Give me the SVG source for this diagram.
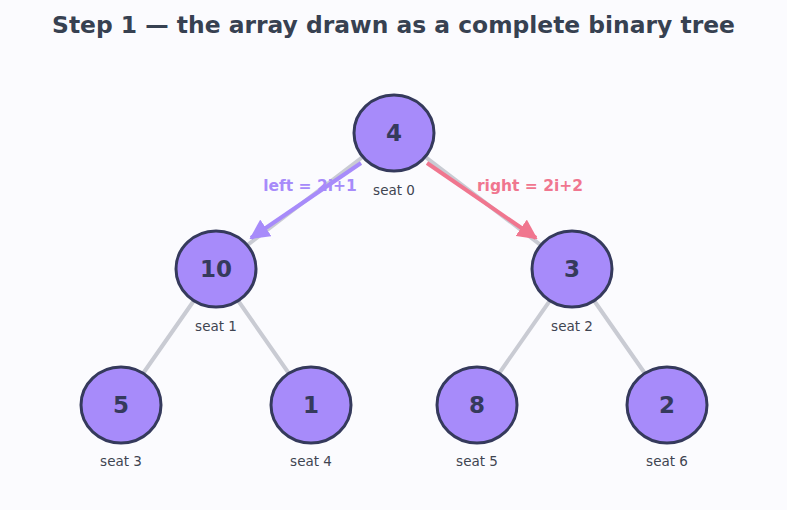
<svg xmlns="http://www.w3.org/2000/svg" width="787" height="510" viewBox="0 0 787 510">
<style>
.bg{fill:#fbfbfe}
.title{font-family:"DejaVu Sans",sans-serif;font-weight:bold;font-size:23.4px;fill:#374151;text-anchor:middle}
.node ellipse{fill:#a78bfa;stroke:#353a5c;stroke-width:3}
.val{font-family:"DejaVu Sans",sans-serif;font-weight:bold;font-size:23px;fill:#353a5c;text-anchor:middle}
.seat{font-family:"DejaVu Sans",sans-serif;font-size:13.5px;fill:#3f4451;text-anchor:middle}
.edge{stroke:#c9cbd3;stroke-width:4;stroke-linecap:round}
.lbl{font-family:"DejaVu Sans",sans-serif;font-weight:bold;font-size:15.5px;text-anchor:middle}
</style>
<defs>
<marker id="ahL" markerWidth="5" markerHeight="5" refX="4.5" refY="2.5" orient="auto" markerUnits="strokeWidth"><path d="M0,0 L5,2.5 L0,5 z" fill="#a78bfa"/></marker>
<marker id="ahR" markerWidth="5" markerHeight="5" refX="4.5" refY="2.5" orient="auto" markerUnits="strokeWidth"><path d="M0,0 L5,2.5 L0,5 z" fill="#f0768f"/></marker>
</defs>
<rect class="bg" x="0" y="0" width="787" height="510"/>
<text class="title" x="393.5" y="33">Step 1 — the array drawn as a complete binary tree</text>
<g id="connectors">
<line class="edge" x1="394" y1="133" x2="216" y2="269"/>
<line class="edge" x1="394" y1="133" x2="572" y2="269"/>
<line class="edge" x1="216" y1="269" x2="121" y2="405"/>
<line class="edge" x1="216" y1="269" x2="311" y2="405"/>
<line class="edge" x1="572" y1="269" x2="477" y2="405"/>
<line class="edge" x1="572" y1="269" x2="667" y2="405"/>
<line x1="361" y1="163" x2="251" y2="238" stroke="#a78bfa" stroke-width="4" marker-end="url(#ahL)"/>
<line x1="427" y1="163" x2="536" y2="238" stroke="#f0768f" stroke-width="4" marker-end="url(#ahR)"/>
<text class="lbl" x="310" y="191" fill="#a78bfa">left = 2i+1</text>
<text class="lbl" x="530" y="191" fill="#f0768f">right = 2i+2</text>
</g>
<g id="n0" class="node"><ellipse cx="394" cy="133" rx="40" ry="38"/><text class="val" x="394" y="141">4</text><text class="seat" x="394" y="195">seat 0</text></g>
<g id="n1" class="node"><ellipse cx="216" cy="269" rx="40" ry="38"/><text class="val" x="216" y="277">10</text><text class="seat" x="216" y="331">seat 1</text></g>
<g id="n2" class="node"><ellipse cx="572" cy="269" rx="40" ry="38"/><text class="val" x="572" y="277">3</text><text class="seat" x="572" y="331">seat 2</text></g>
<g id="n3" class="node"><ellipse cx="121" cy="405" rx="40" ry="38"/><text class="val" x="121" y="413">5</text><text class="seat" x="121" y="466">seat 3</text></g>
<g id="n4" class="node"><ellipse cx="311" cy="405" rx="40" ry="38"/><text class="val" x="311" y="413">1</text><text class="seat" x="311" y="466">seat 4</text></g>
<g id="n5" class="node"><ellipse cx="477" cy="405" rx="40" ry="38"/><text class="val" x="477" y="413">8</text><text class="seat" x="477" y="466">seat 5</text></g>
<g id="n6" class="node"><ellipse cx="667" cy="405" rx="40" ry="38"/><text class="val" x="667" y="413">2</text><text class="seat" x="667" y="466">seat 6</text></g>
</svg>
